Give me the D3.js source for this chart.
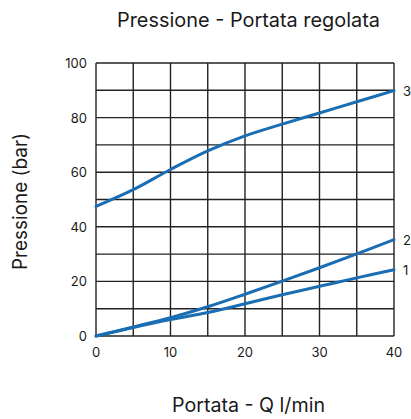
<!DOCTYPE html>
<html><head><meta charset="utf-8">
<script src="https://cdn.jsdelivr.net/npm/d3@7"></script>
<style>body{margin:0;background:#fff}svg{display:block}text{font-family:Inter,"Open Sans",sans-serif;fill:#1a1a1a}</style>
</head><body><svg width="411" height="419"></svg>
<script>
const flow = [0, 5, 10, 15, 20, 25, 30, 35, 40];
const curve1 = [0, 3.1, 6.0, 8.6, 11.8, 15.1, 18.2, 21.3, 24.3];
const curve2 = [0, 3.3, 6.7, 10.7, 15.3, 20.1, 25.0, 30.1, 35.3];
const curve3 = [47.5, 53.6, 61.0, 67.8, 73.3, 77.6, 81.7, 85.8, 89.9];
const seriesNames = ["1", "2", "3"];
const xTicks = [0, 10, 20, 30, 40];
const yTicks = [0, 20, 40, 60, 80, 100];
const title = "Pressione - Portata regolata";
const xTitle = "Portata - Q l/min";
const yTitle = "Pressione (bar)";

const svg = d3.select("svg");
const m = {l: 96, t: 63, r: 394, b: 336};
const x = d3.scaleLinear().domain([0, 40]).range([m.l, m.r]);
const y = d3.scaleLinear().domain([0, 100]).range([m.b, m.t]);

const g = svg.append("g");
g.selectAll(".vx").data(d3.range(0, 41, 5)).join("line")
  .attr("x1", d => x(d)).attr("x2", d => x(d)).attr("y1", y(0)).attr("y2", y(100))
  .attr("stroke", "#222").attr("stroke-width", 1.4);
g.selectAll(".hy").data(d3.range(0, 101, 10)).join("line")
  .attr("y1", d => y(d)).attr("y2", d => y(d)).attr("x1", x(0)).attr("x2", x(40))
  .attr("stroke", "#222").attr("stroke-width", 1.4);

g.selectAll(".xt").data(xTicks).join("text")
  .attr("x", d => x(d)).attr("y", 357).attr("text-anchor", "middle")
  .attr("font-size", 13).text(d => d);
g.selectAll(".yt").data(yTicks).join("text")
  .attr("x", 87).attr("y", d => y(d) + 5).attr("text-anchor", "end")
  .attr("font-size", 13).text(d => d);

const line = d3.line().x((d, i) => x(flow[i])).y(d => y(d)).curve(d3.curveCatmullRom.alpha(0.5));
const all = [curve1, curve2, curve3];
g.selectAll(".c").data(all).join("path")
  .attr("d", d => line(d)).attr("fill", "none")
  .attr("stroke", "#1b6db3").attr("stroke-width", 3).attr("stroke-linecap", "round");
g.selectAll(".lab").data(all).join("text")
  .attr("x", 403).attr("y", d => y(d[d.length - 1]) + 5)
  .attr("font-size", 13).text((d, i) => seriesNames[i]);

svg.append("text").attr("x", 117).attr("y", 27)
  .attr("font-size", 19.5).attr("textLength", 263).attr("lengthAdjust", "spacingAndGlyphs").text(title);
svg.append("text").attr("x", 172).attr("y", 412)
  .attr("font-size", 19.5).attr("textLength", 153).attr("lengthAdjust", "spacingAndGlyphs").text(xTitle);
svg.append("text").attr("transform", "translate(27,270) rotate(-90)")
  .attr("font-size", 19.5).attr("textLength", 137).attr("lengthAdjust", "spacingAndGlyphs").text(yTitle);
</script></body></html>
